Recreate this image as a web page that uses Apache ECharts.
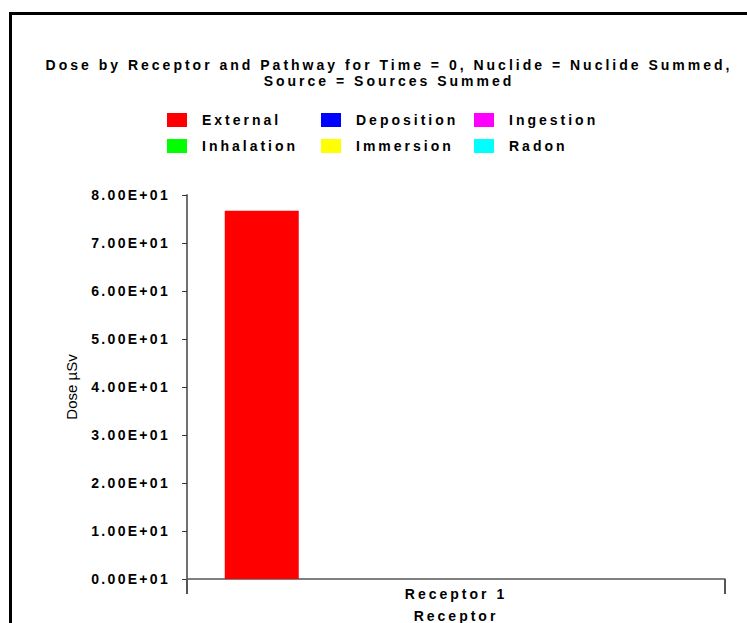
<!DOCTYPE html>
<html>
<head>
<meta charset="utf-8">
<script src="https://cdn.jsdelivr.net/npm/echarts@6/dist/echarts.min.js"></script>
<style>
html,body{margin:0;padding:0;background:#fff;}
#chart{width:747px;height:623px;}
#chart text{letter-spacing:3px;}
#chart text[style*="Helvetica"]{letter-spacing:2.3px;}
#chart text[style*="Narrow"]{letter-spacing:0px;}
</style>
</head>
<body>
<div id="chart"></div>
<script>
const titleLines = ['Dose by Receptor and Pathway for Time = 0, Nuclide = Nuclide Summed,', 'Source = Sources Summed'];
const categories = ['Receptor 1'];
const seriesNames = ['External', 'Deposition', 'Ingestion', 'Inhalation', 'Immersion', 'Radon'];
const seriesColors = ['#ff0000', '#0000ff', '#ff00ff', '#00ff00', '#ffff00', '#00ffff'];
const seriesValues = [[76.7], [0], [0], [0], [0], [0]];
const yTicks = { min: 0, max: 80, interval: 10 };
const yAxisName = 'Dose µSv';
const xAxisName = 'Receptor';

const boldFont = '"Liberation Sans", Arial, sans-serif';
const yLabelFont = '"Liberation Sans", Arial, Helvetica';

const chart = echarts.init(document.getElementById('chart'), null, { renderer: 'svg' });

// legend grid: 3 columns x 2 rows
const legendCols = [167, 321, 474];
const legendRows = [113, 139];
const legends = seriesNames.map((name, i) => ({
  data: [name],
  left: legendCols[i % 3],
  top: legendRows[Math.floor(i / 3)],
  padding: 0,
  itemWidth: 20, itemHeight: 14,
  icon: 'rect',
  selectedMode: false,
  textStyle: { color: '#000', fontFamily: boldFont, fontWeight: 'bold', fontSize: 14, padding: [0, 0, 0, 10] }
}));

chart.setOption({
  animation: false,
  backgroundColor: '#fff',
  title: {
    text: titleLines.join('\n'),
    left: 389,
    textAlign: 'center',
    top: 57,
    padding: 0,
    textStyle: { color: '#000', fontFamily: boldFont, fontWeight: 'bold', fontSize: 14, lineHeight: 16 }
  },
  legend: legends,
  grid: { left: 187, right: 22, top: 195, bottom: 44, outerBoundsMode: 'none', containLabel: false },
  xAxis: {
    type: 'category',
    data: categories,
    boundaryGap: true,
    name: xAxisName,
    nameLocation: 'middle',
    nameGap: 30,
    nameTextStyle: { color: '#000', fontFamily: boldFont, fontWeight: 'bold', fontSize: 14 },
    axisLine: { show: true, lineStyle: { color: '#555', width: 1.5 } },
    axisTick: { show: true, length: 15, alignWithLabel: false, lineStyle: { color: '#555', width: 2 } },
    axisLabel: { color: '#000', fontFamily: boldFont, fontWeight: 'bold', fontSize: 14, margin: 8 },
    splitLine: { show: false }
  },
  yAxis: {
    type: 'value',
    min: yTicks.min, max: yTicks.max, interval: yTicks.interval,
    name: yAxisName,
    nameLocation: 'middle',
    nameRotate: 90,
    nameGap: 108,
    nameTextStyle: { color: '#000', fontFamily: '"Liberation Sans Narrow", "Liberation Sans", Arial', fontWeight: 'normal', fontSize: 15 },
    axisLine: { show: true, lineStyle: { color: '#707070', width: 2 } },
    axisTick: { show: true, inside: false, length: 5, lineStyle: { color: '#333', width: 1 } },
    axisLabel: {
      color: '#000', fontFamily: yLabelFont, fontWeight: 'bold', fontSize: 14, margin: 17,
      formatter: v => (v / 10).toFixed(2) + 'E+01'
    },
    splitLine: { show: false }
  },
  series: seriesNames.map((name, i) => ({
    name: name,
    type: 'bar',
    data: seriesValues[i],
    barWidth: 74,
    barGap: '5%',
    itemStyle: { color: seriesColors[i] }
  })),
  graphic: [{
    type: 'rect',
    shape: { x: 10.5, y: 13.5, width: 900, height: 800 },
    style: { fill: 'none', stroke: '#000', lineWidth: 3 },
    silent: true,
    z: 100
  }]
});
</script>
</body>
</html>
